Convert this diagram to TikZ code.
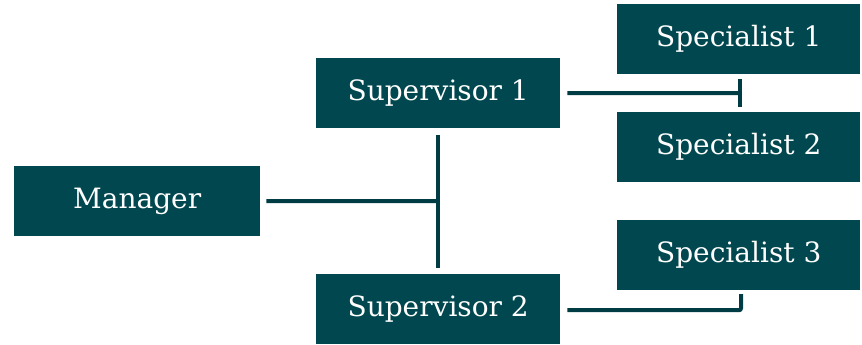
\documentclass[tikz,border=0pt]{standalone}
\usepackage{fontspec}
\setmainfont{DejaVu Serif}
\definecolor{teal}{HTML}{00474F}
\definecolor{tealline}{HTML}{003C44}
\begin{document}
\begin{tikzpicture}[x=1pt,y=-1pt,
  box/.style={fill=teal, text=white, minimum width=244pt, minimum height=70pt, inner sep=0pt, font=\fontsize{28}{32}\selectfont, anchor=north west},
  conn/.style={draw=tealline, line width=4pt}]
\useasboundingbox (0,0) rectangle (862,345);
\node[box, minimum width=246pt] (mgr) at (14,166) {Manager};
\node[box] (sup1) at (316,58) {Supervisor 1};
\node[box] (sup2) at (316,274) {Supervisor 2};
\node[box, minimum width=243pt] (sp1) at (617,4) {Specialist 1};
\node[box, minimum width=243pt] (sp2) at (617,112) {Specialist 2};
\node[box, minimum width=243pt] (sp3) at (617,220) {Specialist 3};
\coordinate (jt) at (438,135);
\coordinate (jb) at (438,268);
\coordinate (jm) at (438,201);
\coordinate (e1) at (740,93);
\coordinate (e1a) at (740,79);
\coordinate (e1b) at (740,107);
\coordinate (e3) at (741,294);
\draw[conn] (jt) -- (jb);
\draw[conn] ([xshift=6pt]mgr.east) -- (jm);
\draw[conn] ([xshift=7pt]sup1.east) -- (e1);
\draw[conn] (e1a) -- (e1b);
\draw[conn, rounded corners=2pt] ([xshift=7pt,yshift=-1pt]sup2.east) -| (e3);
\end{tikzpicture}
\end{document}
